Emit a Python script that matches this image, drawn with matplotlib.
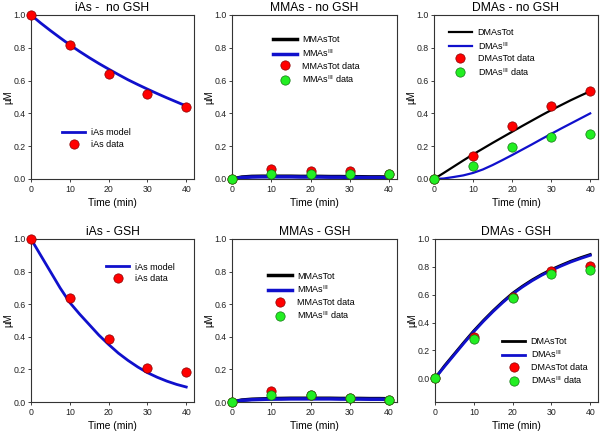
import matplotlib
matplotlib.use("Agg")
import matplotlib.pyplot as plt

plt.rcParams['font.family'] = ['Liberation Sans', 'DejaVu Sans']
plt.rcParams['mathtext.fontset'] = 'custom'
plt.rcParams['mathtext.rm'] = 'Liberation Sans'

BLUE = "#1010cc"
RED = "#ff0000"
GREEN = "#22ee22"

t_data = [0, 10, 20, 30, 40]
t_model = [0, 2.5, 5, 7.5, 10, 12.5, 15, 17.5, 20, 22.5, 25, 27.5, 30, 32.5, 35, 37.5, 40]

# iAs - no GSH
ias_nogsh_model = [1.0, 0.951, 0.905, 0.861, 0.818, 0.778, 0.74, 0.704, 0.67,
                   0.637, 0.605, 0.576, 0.548, 0.521, 0.495, 0.47, 0.445]
ias_nogsh_data = [1.0, 0.815, 0.64, 0.52, 0.44]

# MMAs - no GSH
mmas_nogsh_tot = [0.0, 0.012, 0.016, 0.017, 0.017, 0.017, 0.017, 0.016, 0.016,
                  0.016, 0.015, 0.015, 0.014, 0.014, 0.013, 0.013, 0.012]
mmas_nogsh_iii = [0.0, 0.009, 0.012, 0.013, 0.013, 0.013, 0.013, 0.012, 0.012,
                  0.012, 0.011, 0.011, 0.010, 0.010, 0.009, 0.009, 0.008]
mmas_nogsh_tot_data = [0.0, 0.06, 0.047, 0.048, 0.03]
mmas_nogsh_iii_data = [0.0, 0.03, 0.03, 0.03, 0.03]

# DMAs - no GSH
dmas_nogsh_tot = [0.0, 0.037, 0.075, 0.113, 0.15, 0.185, 0.22, 0.254, 0.288,
                  0.322, 0.355, 0.388, 0.42, 0.45, 0.48, 0.508, 0.535]
dmas_nogsh_iii = [0.0, 0.003, 0.012, 0.022, 0.037, 0.058, 0.085, 0.115, 0.146,
                  0.178, 0.21, 0.243, 0.275, 0.307, 0.338, 0.369, 0.40]
dmas_nogsh_tot_data = [0.0, 0.138, 0.325, 0.445, 0.535]
dmas_nogsh_iii_data = [0.0, 0.08, 0.193, 0.258, 0.272]

# iAs - GSH
ias_gsh_model = [1.0, 0.90, 0.80, 0.70, 0.61, 0.54, 0.475, 0.41, 0.353,
                 0.30, 0.255, 0.215, 0.18, 0.152, 0.128, 0.108, 0.092]
ias_gsh_data = [1.0, 0.64, 0.386, 0.21, 0.186]

# MMAs - GSH
mmas_gsh_tot = [0.0, 0.012, 0.017, 0.019, 0.021, 0.022, 0.023, 0.023, 0.023,
                0.023, 0.023, 0.022, 0.022, 0.022, 0.021, 0.021, 0.020]
mmas_gsh_iii = [0.0, 0.010, 0.014, 0.016, 0.018, 0.018, 0.019, 0.019, 0.019,
                0.019, 0.019, 0.018, 0.018, 0.018, 0.017, 0.017, 0.016]
mmas_gsh_tot_data = [0.0, 0.069, 0.041, 0.027, 0.012]
mmas_gsh_iii_data = [0.0, 0.041, 0.041, 0.027, 0.012]

# DMAs - GSH
dmas_gsh_tot = [0.0, 0.092, 0.176, 0.26, 0.341, 0.416, 0.486, 0.551, 0.611,
                0.661, 0.706, 0.746, 0.781, 0.812, 0.841, 0.866, 0.889]
dmas_gsh_iii = [0.0, 0.086, 0.17, 0.254, 0.335, 0.41, 0.48, 0.545, 0.605,
                0.655, 0.70, 0.74, 0.775, 0.806, 0.835, 0.86, 0.883]
dmas_gsh_tot_data = [0.0, 0.296, 0.583, 0.77, 0.807]
dmas_gsh_iii_data = [0.0, 0.282, 0.578, 0.752, 0.778]

W, H = 600, 432
fig = plt.figure(figsize=(6, 4.32), dpi=100)


def make_ax(left, top, right, bottom, title, ymin=0.0):
    ax = fig.add_axes([left / W, 1 - bottom / H, (right - left) / W, (bottom - top) / H])
    ax.set_xlim(0, 42)
    ax.set_ylim(ymin, 1.0)
    ax.set_xticks([0, 10, 20, 30, 40])
    ax.set_yticks([0.0, 0.2, 0.4, 0.6, 0.8, 1.0])
    ax.set_yticklabels(["0.0", "0.2", "0.4", "0.6", "0.8", "1.0"])
    ax.tick_params(labelsize=6.3, length=2, width=0.6, pad=2, colors="#222222")
    for s in ax.spines.values():
        s.set_linewidth(0.8)
        s.set_color("#333333")
    ax.set_title(title, fontsize=8.7, pad=3)
    ax.set_xlabel("Time (min)", fontsize=7.4, labelpad=3)
    ax.set_ylabel("\u00b5M", fontsize=7, labelpad=0)
    return ax


def data(ax, y, color, edge, label):
    ax.plot(t_data, y, "o", ms=6.7, mfc=color, mec=edge, mew=0.5, label=label,
            clip_on=False, zorder=5)


def legend(ax, x, y, hl=2.6):
    ax.legend(loc="upper left", bbox_to_anchor=(x, y), frameon=False, fontsize=6.5,
              handlelength=hl, labelspacing=0.3, borderpad=0, handletextpad=0.6,
              borderaxespad=0)


# top row
ax = make_ax(31, 15, 194, 179, "iAs -  no GSH")
ax.plot(t_model, ias_nogsh_model, color=BLUE, lw=2, label="iAs model")
data(ax, ias_nogsh_data, RED, "#880000", "iAs data")
legend(ax, 0.19, 0.31)

ax = make_ax(232, 15, 397, 179, "MMAs - no GSH")
ax.plot(t_model, mmas_nogsh_tot, color="black", lw=2.5, label="MMAsTot")
ax.plot(t_model, mmas_nogsh_iii, color=BLUE, lw=2.5, label=r"MMAs$^{\mathrm{III}}$")
data(ax, mmas_nogsh_tot_data, RED, "#880000", "MMAsTot data")
data(ax, mmas_nogsh_iii_data, GREEN, "#117711", r"MMAs$^{\mathrm{III}}$ data")
legend(ax, 0.25, 0.875)

ax = make_ax(434, 15, 598, 179, "DMAs - no GSH")
ax.plot(t_model, dmas_nogsh_tot, color="black", lw=1.6, label="DMAsTot")
ax.plot(t_model, dmas_nogsh_iii, color=BLUE, lw=1.6, label=r"DMAs$^{\mathrm{III}}$")
data(ax, dmas_nogsh_tot_data, RED, "#880000", "DMAsTot data")
data(ax, dmas_nogsh_iii_data, GREEN, "#117711", r"DMAs$^{\mathrm{III}}$ data")
legend(ax, 0.09, 0.92)

# bottom row
ax = make_ax(31, 239, 194, 402, "iAs - GSH")
ax.plot(t_model, ias_gsh_model, color=BLUE, lw=2, label="iAs model")
data(ax, ias_gsh_data, RED, "#880000", "iAs data")
legend(ax, 0.46, 0.855)

ax = make_ax(232, 239, 397, 402, "MMAs - GSH")
ax.plot(t_model, mmas_gsh_tot, color="black", lw=2.5, label="MMAsTot")
ax.plot(t_model, mmas_gsh_iii, color=BLUE, lw=2.5, label=r"MMAs$^{\mathrm{III}}$")
data(ax, mmas_gsh_tot_data, RED, "#880000", "MMAsTot data")
data(ax, mmas_gsh_iii_data, GREEN, "#117711", r"MMAs$^{\mathrm{III}}$ data")
legend(ax, 0.22, 0.80)

ax = make_ax(435, 239, 598, 402, "DMAs - GSH", ymin=-0.17)
ax.plot(t_model, dmas_gsh_tot, color="black", lw=2, label="DMAsTot")
ax.plot(t_model, dmas_gsh_iii, color=BLUE, lw=2, label=r"DMAs$^{\mathrm{III}}$")
data(ax, dmas_gsh_tot_data, RED, "#880000", "DMAsTot data")
data(ax, dmas_gsh_iii_data, GREEN, "#117711", r"DMAs$^{\mathrm{III}}$ data")
legend(ax, 0.41, 0.40)

fig.savefig("out.png", dpi=100)
